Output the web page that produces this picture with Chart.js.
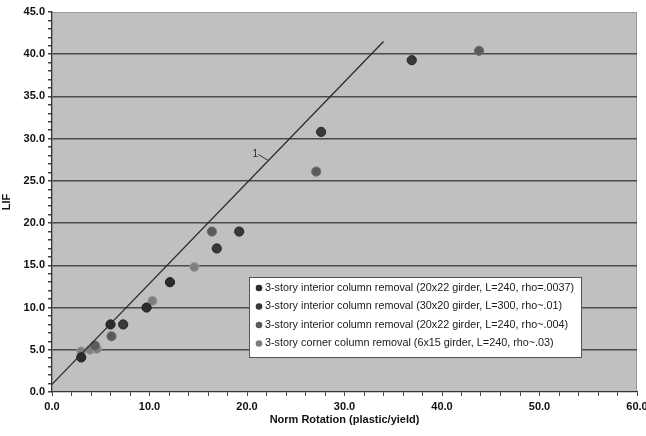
<!DOCTYPE html>
<html>
<head>
<meta charset="utf-8">
<script src="https://cdn.jsdelivr.net/npm/chart.js@4/dist/chart.umd.min.js"></script>
<style>
  html, body { margin: 0; padding: 0; background: #fff; overflow: hidden; }
  #wrap { width: 655px; height: 436px; }
</style>
</head>
<body>
<div id="wrap"><canvas id="chart" width="655" height="436"></canvas></div>
<script>
// ── Data ──
const seriesLabels = [
  '3-story interior column removal (20x22 girder, L=240, rho=.0037)',
  '3-story interior column removal (30x20 girder, L=300, rho~.01)',
  '3-story interior column removal (20x22 girder, L=240, rho~.004)',
  '3-story corner column removal (6x15 girder, L=240, rho~.03)'
]
const s1X = [3.0, 6.0, 9.7, 12.1]
const s1Y = [4.1, 8.0, 10.0, 13.0]
const s2X = [7.3, 16.9, 19.2, 27.6, 36.9]
const s2Y = [8.0, 17.0, 19.0, 30.8, 39.3]
const s3X = [4.4, 6.1, 16.4, 27.1, 43.8]
const s3Y = [5.5, 6.6, 19.0, 26.1, 40.4]
const s4X = [3.0, 3.9, 4.6, 10.3, 14.6]
const s4Y = [4.8, 5.0, 5.1, 10.8, 14.8]

// slope-1 reference line
const refX = [0, 34.0]
const refY = [0.9, 41.5]
const refLabel = '1'
const refLabelAt = 22.2

const FONT = "Arial, 'Liberation Sans', sans-serif"
const FILLS   = ['#2c2c2c', '#393939', '#5a5a5a', '#7e7e7e']
const BORDERS = ['#1e1e1e', '#262626', '#6e6e6e', '#a0a0a0']

const pts = (xs, ys) => xs.map((x, i) => ({ x, y: ys[i] }))

// ── Plot background ──
const plotBg = {
  id: 'plotBg',
  beforeDraw(chart) {
    const { ctx, chartArea: a } = chart
    ctx.save()
    ctx.fillStyle = '#c0c0c0'
    ctx.fillRect(a.left, a.top, a.right - a.left, a.bottom - a.top)
    ctx.strokeStyle = '#9a9a9a'
    ctx.lineWidth = 1
    ctx.beginPath()
    ctx.moveTo(a.left, a.top + 0.5)
    ctx.lineTo(a.right - 0.5, a.top + 0.5)
    ctx.lineTo(a.right - 0.5, a.bottom)
    ctx.stroke()
    ctx.restore()
  }
}

// ── "1" slope label and legend box ──
const extras = {
  id: 'extras',
  afterDraw(chart) {
    const { ctx, scales: { x, y } } = chart
    const slope = (refY[1] - refY[0]) / (refX[1] - refX[0])
    const px = x.getPixelForValue(refLabelAt)
    const py = y.getPixelForValue(refY[0] + slope * refLabelAt)
    ctx.save()
    ctx.strokeStyle = '#333'
    ctx.lineWidth = 1
    ctx.beginPath()
    ctx.moveTo(px, py)
    ctx.lineTo(px - 10, py - 6)
    ctx.stroke()
    ctx.fillStyle = '#333'
    ctx.font = '11px ' + FONT
    ctx.textAlign = 'right'
    ctx.textBaseline = 'middle'
    ctx.fillText(refLabel, px - 10, py - 7)

    // legend
    const bx = 249, by = 277, bw = 332, bh = 80
    ctx.fillStyle = '#ffffff'
    ctx.fillRect(bx, by, bw, bh)
    ctx.strokeStyle = '#555'
    ctx.strokeRect(bx + 0.5, by + 0.5, bw, bh)
    ctx.font = '10.8px ' + FONT
    ctx.textAlign = 'left'
    seriesLabels.forEach((lab, i) => {
      const ry = by + 11 + i * 18.5
      ctx.fillStyle = FILLS[i]
      ctx.beginPath()
      ctx.arc(bx + 10, ry, 3.3, 0, Math.PI * 2)
      ctx.fill()
      ctx.fillStyle = '#1a1a1a'
      ctx.fillText(lab, bx + 16, ry)
    })
    ctx.restore()
  }
}

const scatterSet = (i, xs, ys) => ({
  type: 'scatter',
  label: seriesLabels[i],
  data: pts(xs, ys),
  backgroundColor: FILLS[i],
  borderColor: BORDERS[i],
  borderWidth: 1,
  pointRadius: 4.6,
  pointHoverRadius: 4.6
})

new Chart(document.getElementById('chart'), {
  type: 'scatter',
  data: {
    datasets: [
      {
        type: 'line',
        label: 'slope 1',
        data: pts(refX, refY),
        borderColor: '#2a2a2a',
        borderWidth: 1.3,
        pointRadius: 0,
        fill: false
      },
      scatterSet(0, s1X, s1Y),
      scatterSet(1, s2X, s2Y),
      scatterSet(2, s3X, s3Y),
      scatterSet(3, s4X, s4Y)
    ]
  },
  options: {
    responsive: false,
    animation: false,
    layout: { padding: { left: 0, right: 18, top: 12, bottom: 0 } },
    plugins: { legend: { display: false }, tooltip: { enabled: false } },
    scales: {
      x: {
        type: 'linear',
        min: 0, max: 60,
        ticks: {
          stepSize: 2,
          autoSkip: false,
          maxRotation: 0,
          padding: 4,
          color: '#111',
          font: { family: FONT, size: 11, weight: 'bold' },
          callback: v => (v % 10 === 0 ? v.toFixed(1) : '')
        },
        grid: {
          drawOnChartArea: false,
          tickLength: 4,
          tickColor: '#444'
        },
        border: { color: '#333', width: 1.3 },
        title: {
          display: true,
          text: 'Norm Rotation (plastic/yield)',
          color: '#111',
          padding: { top: 0, bottom: 9 },
          font: { family: FONT, size: 11, weight: 'bold' }
        },
        afterFit: s => { s.height = 44 }
      },
      y: {
        type: 'linear',
        min: 0, max: 45,
        ticks: {
          stepSize: 1,
          autoSkip: false,
          padding: 3,
          color: '#111',
          font: { family: FONT, size: 11, weight: 'bold' },
          callback: v => (v % 5 === 0 ? v.toFixed(1) : '')
        },
        grid: {
          tickLength: 4,
          tickColor: '#444',
          lineWidth: 1.5,
          color: c => (c.tick && c.tick.value % 5 === 0 && c.tick.value > 0 && c.tick.value < 45 ? '#4a4a4a' : 'transparent')
        },
        border: { color: '#333', width: 1.3 },
        title: {
          display: true,
          text: 'LIF',
          color: '#111',
          padding: 0,
          font: { family: FONT, size: 11, weight: 'bold' }
        },
        afterFit: s => { s.width = 52 }
      }
    }
  },
  plugins: [plotBg, extras]
})
</script>
</body>
</html>
